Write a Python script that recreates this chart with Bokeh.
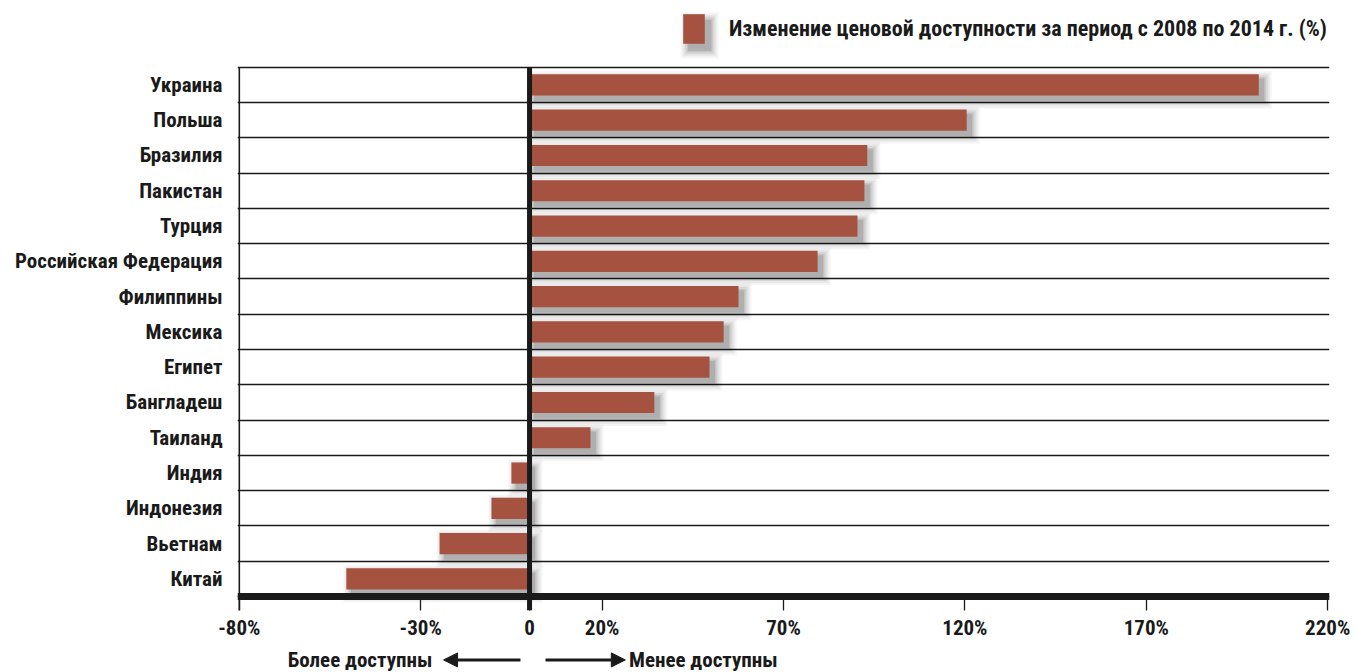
from bokeh.plotting import figure
from bokeh.layouts import column
from bokeh.models import (ColumnDataSource, FixedTicker, Span, Arrow,
                          NormalHead, Legend, LegendItem, Range1d)
from bokeh.core.properties import value
from bokeh.embed import file_html
from bokeh.resources import INLINE

countries = ["Украина", "Польша", "Бразилия", "Пакистан", "Турция",
             "Российская Федерация", "Филиппины", "Мексика", "Египет",
             "Бангладеш", "Таиланд", "Индия", "Индонезия", "Вьетнам", "Китай"]
values = [201, 120.5, 93.1, 92.3, 90.4, 79.4, 57.6, 53.5, 49.6, 34.4, 16.8,
          -5.0, -10.5, -24.8, -50.5]
x_ticks = [-80, -30, 0, 20, 70, 120, 170, 220]
legend_label = "Изменение ценовой доступности за период с 2008 по 2014 г. (%)"
left_note = "Более доступны"
right_note = "Менее доступны"

FONT = "'Liberation Sans Narrow', 'Roboto Condensed', 'DejaVu Sans Condensed', 'Arial Narrow', sans-serif"
FS = "21px"
BAR = "#a65240"
TXT = "#1a1a1a"
W = 1357

n = len(countries)
ypos = [n - 1 - i for i in range(n)]
src = ColumnDataSource(dict(y=ypos, v=values, zero=[0] * n))

x_px = 1088 / 300.0          # pixels per x unit
y_px = 531 / 15.0            # pixels per row
y_lo = -0.5 - 14 / y_px      # frame bottom (below the axis bar)
y_hi = n - 0.5 + 67 / y_px   # frame top (includes legend area)

p = figure(width=W, height=642, output_backend="svg", toolbar_location=None,
           x_range=Range1d(-80.5, 220.5), y_range=Range1d(y_lo, y_hi),
           min_border_left=237, min_border_right=28,
           min_border_top=0, min_border_bottom=30)
p.outline_line_color = None
p.background_fill_color = "white"
p.border_fill_color = "white"

p.ygrid.ticker = FixedTicker(ticks=[i + 0.5 for i in range(-1, n)])
p.ygrid.grid_line_color = TXT
p.ygrid.grid_line_width = 1.6
p.xgrid.visible = False

# soft shadows (layers)
for k, a in [(8, 0.04), (6, 0.05), (4, 0.07), (2, 0.09), (0.5, 0.10)]:
    sh = dict(
        left=[min(0, v) + (5 - k) / x_px for v in values],
        right=[max(0, v) + (5 + k) / x_px for v in values],
        top=[y + 0.3 - (5 - k) / y_px for y in ypos],
        bottom=[y - 0.3 - (5 + k) / y_px for y in ypos],
    )
    p.quad(source=ColumnDataSource(sh), left="left", right="right",
           top="top", bottom="bottom", fill_color="black", fill_alpha=a,
           line_color=None)

bars = p.hbar(y="y", left="zero", right="v", height=0.6, source=src,
              fill_color=BAR, line_color=None)

# left border and zero line (from chart top down to the tick ends)
p.segment(x0=[-80, 0], y0=[y_lo, y_lo], x1=[-80, 0], y1=[n - 0.5, n - 0.5],
          line_color=TXT, line_width=[1.6, 5])
# bottom axis bar
p.add_layout(Span(location=-0.5, dimension="width", line_color=TXT, line_width=7))

xa = p.xaxis[0]
xa.ticker = FixedTicker(ticks=x_ticks)
xa.major_label_overrides = {tk: ("0" if tk == 0 else f"{tk}%") for tk in x_ticks}
xa.axis_line_color = None
xa.major_tick_in = 14
xa.major_tick_out = 0
xa.major_tick_line_color = TXT
xa.major_tick_line_width = 1.3
xa.minor_tick_line_color = None
xa.minor_tick_out = 0
xa.major_label_standoff = 5
xa.major_label_text_font = FONT
xa.major_label_text_font_style = "bold"
xa.major_label_text_font_size = FS
xa.major_label_text_color = TXT

ya = p.yaxis[0]
ya.ticker = FixedTicker(ticks=ypos)
ya.major_label_overrides = {y: c for y, c in zip(ypos, countries)}
ya.axis_line_color = None
ya.major_tick_line_color = None
ya.major_tick_out = 0
ya.major_tick_in = 0
ya.minor_tick_line_color = None
ya.minor_tick_out = 0
ya.major_label_standoff = 15
ya.major_label_text_font = FONT
ya.major_label_text_font_style = "bold"
ya.major_label_text_font_size = FS
ya.major_label_text_color = TXT


# legend (inside the frame's top strip) with a soft shadow behind the swatch
def dx(px):   # page x pixel -> data x
    return -80.5 + (px - 237) / x_px


def dy(py):   # page y pixel -> data y
    return y_hi - py / y_px


for k, a in [(8, 0.04), (6, 0.05), (4, 0.07), (2, 0.09), (0.5, 0.10)]:
    p.quad(left=[dx(683 + 5 - k)], right=[dx(705 + 5 + k)],
           top=[dy(15 + 5 - k)], bottom=[dy(45 + 5 + k)],
           fill_color="black", fill_alpha=a, line_color=None)

leg = Legend(items=[LegendItem(label=legend_label, renderers=[bars])],
             location=(443, 563.5), orientation="horizontal",
             glyph_width=27, glyph_height=37, label_standoff=22,
             padding=0, margin=0, border_line_color=None,
             background_fill_alpha=0,
             label_text_font=FONT, label_text_font_style="bold",
             label_text_font_size="22px", label_text_color=TXT)
p.add_layout(leg, "center")

# ---------- notes strip (bottom), same x scale ----------
q = figure(width=W, height=30, output_backend="svg", toolbar_location=None,
           x_range=p.x_range, y_range=Range1d(0, 1),
           x_axis_type=None, y_axis_type=None,
           min_border_left=237, min_border_right=28,
           min_border_top=0, min_border_bottom=0)
q.outline_line_color = None
q.xgrid.visible = False
q.ygrid.visible = False
q.background_fill_color = "white"
q.border_fill_color = "white"
q.text(x=[-26.8], y=[0.42], text=[left_note], text_align="right",
       text_baseline="middle", text_font=value(FONT), text_font_style="bold",
       text_font_size=FS, text_color=TXT)
q.text(x=[27.4], y=[0.42], text=[right_note], text_align="left",
       text_baseline="middle", text_font=value(FONT), text_font_style="bold",
       text_font_size=FS, text_color=TXT)
for xs, xe in [(-2.5, -23.7), (4.4, 26.4)]:
    q.add_layout(Arrow(x_start=xs, y_start=0.42, x_end=xe, y_end=0.42,
                       line_color=TXT, line_width=3,
                       end=NormalHead(size=14, fill_color=TXT, line_color=TXT)))

layout = column(p, q, spacing=0)
open("out.html", "w").write(file_html(layout, INLINE))
